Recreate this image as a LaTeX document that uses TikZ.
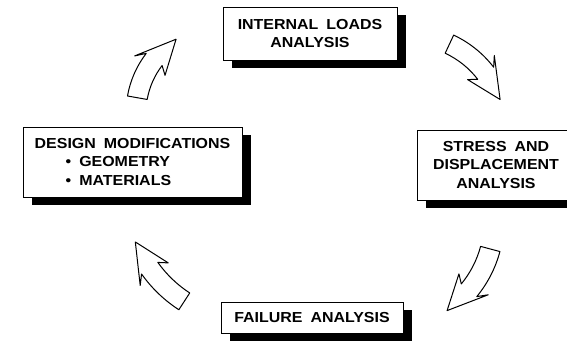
\documentclass[tikz,border=0pt]{standalone}
\usepackage{fontspec}
\newfontfamily\cycfont{Liberation Sans}[FakeStretch=1.1,WordSpace=1.8]
\usetikzlibrary{shadows}
\definecolor{CycInk}{RGB}{0,0,0}
\tikzset{
  cyc/box/.style={
    draw=CycInk,
    line width=0.8pt,
    fill=white,
    align=center,
    text=CycInk,
    inner sep=0pt,
    font=\cycfont\bfseries\fontsize{14.5}{18.5}\selectfont,
    drop shadow={shadow xshift=9pt,shadow yshift=-8pt,fill=CycInk,opacity=1}
  },
  cyc/arrow/.style={draw=CycInk, line width=1pt, fill=white, line join=round}
}
% curved block arrow: centre, radius, tail angle, tip angle
\newcommand{\cycarrow}[4]{%
  \begin{scope}[shift={(#1)}]
    \pgfmathsetmacro{\cycHead}{30/#2*57.3}
    \pgfmathsetmacro{\cycBase}{#4+\cycHead}
    \pgfmathsetmacro{\cycBarb}{#4+\cycHead*1.25}
    \draw[cyc/arrow] (#3:#2+10) arc[start angle=#3,end angle=\cycBase,radius=#2+10]
      -- (\cycBarb:#2+18) -- (#4:#2) -- (\cycBarb:#2-18) -- (\cycBase:#2-10)
      arc[start angle=\cycBase,end angle=#3,radius=#2-10] -- cycle;
  \end{scope}}

\begin{document}
\begin{tikzpicture}[x=1pt,y=1pt]
  \useasboundingbox (0,0) rectangle (567,341);
  \clip (0,0) rectangle (567,341);
  \node[cyc/box,minimum width=174pt,minimum height=53pt] (loads) at (310,307.5) {INTERNAL LOADS\\ANALYSIS};
  \node[cyc/box,minimum width=158pt,minimum height=70pt] (stress) at (496,176) {STRESS AND\\DISPLACEMENT\\ANALYSIS};
  \node[cyc/box,minimum width=182pt,minimum height=31pt] (failure) at (312,23.5) {FAILURE ANALYSIS};
  \node[cyc/box,minimum width=219pt,minimum height=70pt,align=left] (design) at (132.5,179) {DESIGN MODIFICATIONS\\\hspace*{31pt}• GEOMETRY\\\hspace*{31pt}• MATERIALS};
  \coordinate (design-loads) at (224,228);
  \coordinate (loads-stress) at (408,208);
  \coordinate (stress-failure) at (384,120.5);
  \coordinate (failure-design) at (254,147);
  \cycarrow{design-loads}{88}{170}{123}
  \cycarrow{loads-stress}{98}{65}{20}
  \cycarrow{stress-failure}{110}{-15}{-55}
  \cycarrow{failure-design}{128}{237}{202}
\end{tikzpicture}
\end{document}
